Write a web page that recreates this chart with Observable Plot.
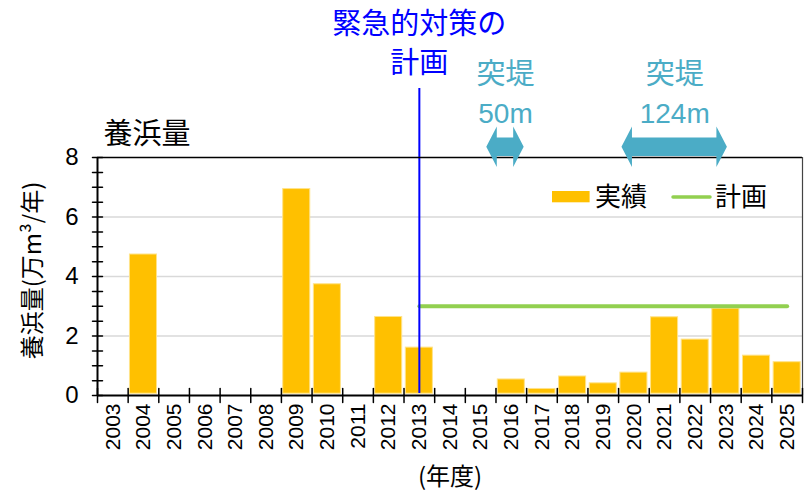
<!DOCTYPE html>
<html><head><meta charset="utf-8">
<script src="https://cdn.jsdelivr.net/npm/d3@7"></script>
<script src="https://cdn.jsdelivr.net/npm/@observablehq/plot@0.6"></script>
<style>body{margin:0;background:#fff} svg{display:block}</style>
</head><body><div id="chart"></div>
<script>
// ---- data ----
const yearTicks = [2003,2004,2005,2006,2007,2008,2009,2010,2011,2012,2013,2014,2015,2016,2017,2018,2019,2020,2021,2022,2023,2024,2025];
const actualYears  = [2004, 2009, 2010, 2012, 2013, 2016, 2017, 2018, 2019, 2020, 2021, 2022, 2023, 2024, 2025];
const actualValues = [4.8,  7.0,  3.8,  2.7,  1.67, 0.6,  0.28, 0.7,  0.47, 0.83, 2.69, 1.94, 2.98, 1.4,  1.18];
const planYears  = [2013, 2025];
const planValues = [3, 3];
const measureYear = 2013;
const measureLines = ["緊急的対策の", "計画"];
const groyneLabels  = ["突堤", "突堤"];
const groyneLengths = ["50m", "124m"];
const groyneFrom = [2015.2, 2019.61];
const groyneTo   = [2016.42, 2023.05];
const yTicksMajor = [0, 2, 4, 6, 8];
const yTicksMinor = d3.range(0, 8.01, 0.5);
const xBoundaries = d3.range(2002.5, 2025.6, 1);

const bars = actualYears.map((y, i) => ({year: y, value: actualValues[i]}));
const plan = planYears.map((y, i) => ({year: y, value: planValues[i]}));
const groynes = groyneLabels.map((l, i) => ({label: l, len: groyneLengths[i], from: groyneFrom[i], to: groyneTo[i], mid: (groyneFrom[i] + groyneTo[i]) / 2}));

const FONT = "'Noto Sans CJK JP', 'Noto Sans', sans-serif";
const NUMFONT = "'Liberation Sans', Arial, sans-serif";
const ORANGE = "#FFC000", GREEN = "#92D050", BLUE = "#0000FF", TEAL = "#4BACC6";

const tickShape = {draw(ctx, l) { ctx.moveTo(0, 0); ctx.lineTo(0, -l); }};

function arrows(index, scales, values, dims) {
  const g = d3.create("svg:g");
  const yc = dims.marginTop - 10.3, headH = 20.3, shaftH = 9.3, headL = 10.5;
  for (const a of groynes) {
    const x1 = scales.x(a.from), x2 = scales.x(a.to);
    const pts = [[x1, yc], [x1 + headL, yc - headH], [x1 + headL, yc - shaftH], [x2 - headL, yc - shaftH],
                 [x2 - headL, yc - headH], [x2, yc], [x2 - headL, yc + headH], [x2 - headL, yc + shaftH],
                 [x1 + headL, yc + shaftH], [x1 + headL, yc + headH]];
    g.append("path").attr("d", "M" + pts.map(p => p.join(",")).join("L") + "Z").attr("fill", TEAL);
  }
  return g.node();
}

function legend(index, scales, values, dims) {
  const g = d3.create("svg:g").attr("font-family", FONT).attr("font-size", 26).attr("text-anchor", "start");
  const right = dims.width - dims.marginRight;
  const top = dims.marginTop;
  g.append("rect").attr("x", right - 250).attr("y", top + 34).attr("width", 37.6).attr("height", 11.3).attr("fill", ORANGE);
  g.append("text").attr("x", right - 207).attr("y", top + 40).attr("dy", "0.36em").text("実績");
  g.append("line").attr("x1", right - 129).attr("x2", right - 92).attr("y1", top + 40).attr("y2", top + 40)
    .attr("stroke", GREEN).attr("stroke-width", 3.5).attr("stroke-linecap", "round");
  g.append("text").attr("x", right - 87).attr("y", top + 40).attr("dy", "0.36em").text("計画");
  return g.node();
}

const chart = Plot.plot({
  width: 804, height: 494,
  marginLeft: 97, marginRight: 2, marginTop: 157, marginBottom: 99,
  style: {fontFamily: FONT, background: "#fff", overflow: "visible", color: "#000"},
  x: {domain: [2002.5, 2025.5], axis: null},
  y: {domain: [0, 8], axis: null},
  marks: [
    Plot.gridY([2, 4, 6], {stroke: "#d9d9d9", strokeOpacity: 1, strokeWidth: 1.5}),
    Plot.rectY(bars, {x1: d => d.year - 0.5, x2: d => d.year + 0.5, y: "value", fill: ORANGE, stroke: "#FFE38A", strokeWidth: 1, inset: 1.8}),
    Plot.lineY(plan, {x: "year", y: "value", stroke: GREEN, strokeWidth: 4, strokeLinecap: "round"}),
    Plot.ruleX([measureYear], {stroke: BLUE, strokeWidth: 2, insetTop: -69, insetBottom: 2}),
    // frame
    Plot.ruleY([8], {stroke: "#000", strokeWidth: 1.5}),
    Plot.ruleX([2025.5], {stroke: "#444", strokeWidth: 1.2}),
    Plot.ruleX([2002.5], {stroke: "#000", strokeWidth: 2}),
    Plot.ruleY([0], {stroke: "#000", strokeWidth: 2}),
    // crossing ticks
    Plot.vector(yTicksMinor, {x: () => 2002.5, y: d => d, length: 10, rotate: 90, anchor: "middle", shape: tickShape, stroke: "#000", strokeWidth: 1.5}),
    Plot.vector(xBoundaries, {x: d => d, y: () => 0, length: 14, rotate: 0, anchor: "middle", shape: tickShape, stroke: "#000", strokeWidth: 1.5}),
    // axis labels
    Plot.axisY(yTicksMajor, {tickSize: 0, tickPadding: 19, fontSize: 24, fontFamily: NUMFONT, tickFormat: d => String(d), label: null}),
    Plot.axisX(yearTicks, {tickSize: 0, tickPadding: 8, tickRotate: -90, fontSize: 21, fontFamily: NUMFONT, tickFormat: d => String(d), label: null}),
    Plot.text(["(年度)"], {frameAnchor: "bottom", lineAnchor: "middle", dy: 82, fontSize: 24}),
    Plot.text(["養浜量(万m³/年)"], {frameAnchor: "left", textAnchor: "middle", lineAnchor: "middle", dx: -64, dy: -6, rotate: -90, fontSize: 24}),
    Plot.text(["養浜量"], {frameAnchor: "top-left", textAnchor: "start", lineAnchor: "middle", dx: 6, dy: -23, fontSize: 29}),
    // measure annotation
    Plot.text([measureLines[0]], {x: () => measureYear, frameAnchor: "top", lineAnchor: "middle", dy: -133, fill: BLUE, fontSize: 29}),
    Plot.text([measureLines[1]], {x: () => measureYear, frameAnchor: "top", lineAnchor: "middle", dy: -94, fill: BLUE, fontSize: 29}),
    // groynes
    arrows,
    Plot.text(groynes, {x: "mid", text: "label", frameAnchor: "top", lineAnchor: "middle", dy: -83, fill: TEAL, fontSize: 29}),
    Plot.text(groynes, {x: "mid", text: "len", frameAnchor: "top", lineAnchor: "middle", dy: -43, fill: TEAL, fontSize: 28, fontFamily: NUMFONT}),
    legend
  ]
});
document.getElementById("chart").append(chart);
</script>
</body></html>
